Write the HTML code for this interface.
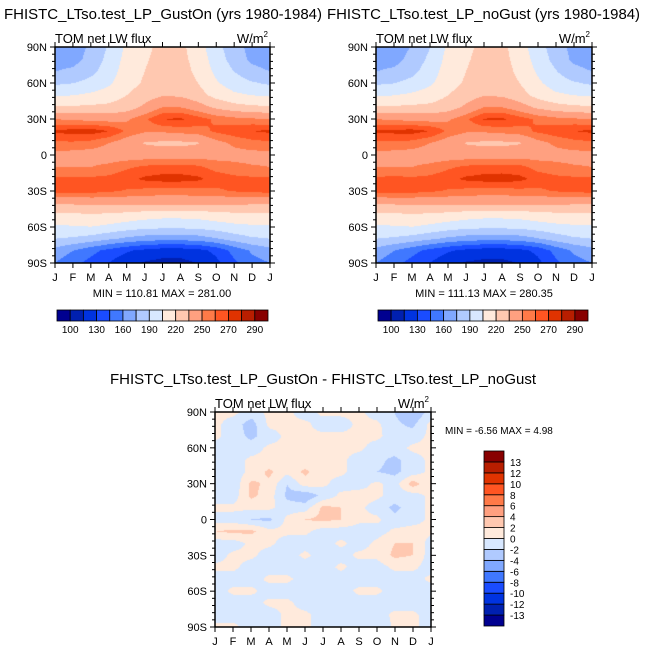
<!DOCTYPE html>
<html><head><meta charset="utf-8"><style>
body{margin:0;background:#fff;width:645px;height:654px;overflow:hidden;position:relative;font-family:"Liberation Sans",sans-serif}
canvas{position:absolute}
svg{position:absolute;left:0;top:0}
</style></head><body>
<canvas id="c1" width="215" height="216" style="left:55px;top:47px"></canvas>
<canvas id="c2" width="216" height="216" style="left:376px;top:47px"></canvas>
<canvas id="c3" width="216" height="215" style="left:215px;top:412px"></canvas>
<svg id="ov" width="645" height="654"></svg>
<script>
const months=["J","F","M","A","M","J","J","A","S","O","N","D","J"];
const lats=[90,80,70,60,50,40,30,20,10,0,-10,-20,-30,-40,-50,-60,-70,-80,-90];
const latTickLabels=["90N","60N","30N","0","30S","60S","90S"];
const levelsTop=[100,115,130,145,160,175,190,205,220,235,250,260,270,280,290];
const levelsTopLabels=["100","130","160","190","220","250","270","290"];
const colorsTop=["#000090","#0020b0","#0033e0","#1a4cff","#4078ff","#80a8ff","#b0caff","#d8e8ff","#ffeadc","#ffc8b0","#ffa080","#ff7a48","#ff5522","#e03300","#b81e00","#880000"];
const levelsDiff=[-13,-12,-10,-8,-6,-4,-2,0,2,4,6,8,10,12,13];
const levelsDiffLabels=["-13","-12","-10","-8","-6","-4","-2","0","2","4","6","8","10","12","13"];
const gustOn=[
[165,168,178,192,208,216,225,224,212,195,182,170,165],
[168,170,180,195,210,218,226,225,214,198,184,172,168],
[175,178,186,198,212,220,228,227,216,202,190,180,175],
[188,190,195,203,214,222,230,229,220,207,198,192,188],
[203,205,208,212,220,228,234,233,226,215,208,205,203],
[222,222,223,224,228,238,250,250,242,232,226,223,222],
[250,248,246,245,248,258,270,272,265,258,254,252,250],
[272,274,275,270,258,252,252,254,256,262,266,270,272],
[258,258,256,250,242,234,232,232,234,246,252,256,258],
[246,245,244,243,243,243,243,243,244,245,246,246,246],
[250,250,250,253,258,262,264,264,262,256,253,251,250],
[262,262,262,263,267,272,274,274,272,266,263,262,262],
[264,264,264,262,259,257,256,256,257,258,261,263,264],
[238,238,239,240,240,240,240,240,240,240,239,238,238],
[216,217,219,217,215,212,210,210,211,214,216,216,216],
[203,204,205,202,198,195,194,194,195,198,201,203,203],
[190,188,184,178,172,168,166,166,168,174,182,188,190],
[170,160,150,140,132,126,122,122,125,134,150,162,170],
[160,150,140,130,120,114,111,111,116,126,142,155,160]];
const noGust=[
[165,168,176,190,208,216,225,224,212,196,183,170,165],
[168,170,180,194,210,218,226,225,214,199,185,172,168],
[175,178,186,198,212,220,228,227,216,203,191,180,175],
[188,190,195,203,214,222,230,229,220,208,198,192,188],
[203,205,208,212,220,228,234,233,226,215,208,205,203],
[222,222,223,224,228,238,250,250,242,232,226,223,222],
[250,248,246,245,248,258,271,272,265,258,254,252,250],
[272,273,274,270,258,252,252,254,256,262,266,270,272],
[258,258,256,250,242,234,232,232,234,246,252,256,258],
[246,245,244,243,243,243,243,243,244,245,246,246,246],
[250,250,250,253,258,262,264,264,263,256,253,251,250],
[262,263,262,263,267,272,274,275,273,266,263,262,262],
[264,266,264,262,259,257,256,256,257,258,261,263,264],
[238,238,239,240,240,240,240,240,240,240,239,238,238],
[216,217,219,217,215,212,210,210,211,214,216,216,216],
[203,204,205,202,198,195,194,194,195,198,201,203,203],
[190,188,184,178,172,168,166,166,168,174,182,188,190],
[170,160,150,140,132,126,122,122,125,134,150,162,170],
[160,150,140,130,120,114,112,112,116,126,142,155,160]];
const diff=[
[0.5,0.5,-1,0.5,0.5,-1,0.5,0.5,0.5,-1,-2,-4,-1],
[0.5,-1,-3,0.5,0.5,0.5,-1,-1,0.5,0.5,-1.5,-2.5,0.5],
[0.5,-1,-2.5,-1,0.5,0.5,0.5,0.5,0.5,0.5,-1,-1,0.5],
[-1,-1,-1,0.5,0.5,0.5,0.5,0.5,0.5,-1,-1,0.5,0.5],
[-1,-1,0.5,0.5,0.5,0.5,0.5,0.5,-1,-1.5,-2.5,-1,0.5],
[-1,-1,0.5,2.5,0.5,2.5,0.5,0.5,-1,-2,-2.5,-1,0.5],
[-1,-1.5,2.5,1.5,-2,1,0.5,-1,-1,0.5,-1,3,0.5],
[-1,-1,2.5,1,-2.5,-3.5,-1.5,0.5,1,0.5,-1,-1,0.5],
[0.5,0.5,0.5,0.5,-1,-1,2.5,2,0.5,-1,-2.5,-1,0.5],
[-1,-1,-2,-2.5,0.5,2,2.5,2,0.5,0.5,-1.5,-1,0.5],
[2,2.5,2.5,0.5,0.5,0.5,-1,-1,-1,-1,0.5,1,0.5],
[-1,-1,0.5,0.5,-1,-1,-1,0.5,-1,0.5,2,2,-1],
[-1,0.5,0.5,-1,-1,0.5,-1,-1,0.5,0.5,2.5,2,-1],
[0.5,0.5,-1,-1,-1,-1,-1,0.5,-1,-1,0.5,0.5,-1],
[-1,-1,-1,0.5,0.5,-1,-1,-1,-1,-1,-1,-1,0.5],
[-1,0.5,0.5,-1,-1,-1,-1,-1,0.5,0.5,-1,-1,-1],
[-1,-1,-1,0.5,0.5,-1,-1,-1,-1,-1,-1,-1,-1],
[-1,-1,-1,-1,0.5,0.5,-1,-1,-1,-1,0.5,0.5,-1],
[0.5,0.5,-1,-1,0.5,0.5,-1,-1,-1,-2,0.5,0.5,-1]];

function hex(c){return [parseInt(c.substr(1,2),16),parseInt(c.substr(3,2),16),parseInt(c.substr(5,2),16)];}
function fill(id,grid,levels,colors){
  const cv=document.getElementById(id),ctx=cv.getContext('2d'),W=cv.width,H=cv.height;
  const img=ctx.createImageData(W,H),rgb=colors.map(hex);
  const nr=grid.length,nc=grid[0].length;
  for(let y=0;y<H;y++){const fy=y/(H-1)*(nr-1),r0=Math.min(Math.floor(fy),nr-2),ty=fy-r0;
    for(let x=0;x<W;x++){const fx=x/(W-1)*(nc-1),c0=Math.min(Math.floor(fx),nc-2),tx=fx-c0;
      const v=(grid[r0][c0]*(1-tx)+grid[r0][c0+1]*tx)*(1-ty)+(grid[r0+1][c0]*(1-tx)+grid[r0+1][c0+1]*tx)*ty;
      let k=0;while(k<levels.length&&v>=levels[k])k++;
      const p=(y*W+x)*4,c=rgb[k];img.data[p]=c[0];img.data[p+1]=c[1];img.data[p+2]=c[2];img.data[p+3]=255;}}
  ctx.putImageData(img,0,0);
}
fill('c1',gustOn,levelsTop,colorsTop);
fill('c2',noGust,levelsTop,colorsTop);
fill('c3',diff,levelsDiff,colorsTop);

const NS="http://www.w3.org/2000/svg",ov=document.getElementById('ov');
function el(t,a,txt){const e=document.createElementNS(NS,t);for(const k in a)e.setAttribute(k,a[k]);if(txt!==undefined)e.textContent=txt;ov.appendChild(e);return e;}
function axes(x0,y0,w,h,pfx){
  let e=el('rect',{x:x0,y:y0,width:w,height:h,fill:'none',stroke:'#000','stroke-width':1.5});
  
  
  const sx=i=>x0+i*w/12, sy=l=>y0+(90-l)/180*h;
  months.forEach((m,i)=>{const x=sx(i);
    el('line',{x1:x,x2:x,y1:y0+h,y2:y0+h+5,stroke:'#000','stroke-width':1});
    el('line',{x1:x,x2:x,y1:y0,y2:y0-5,stroke:'#000','stroke-width':1});
    e=el('text',{x:x,y:y0+h+18,'font-size':11,'text-anchor':'middle'},m);
    
    });
  for(let l=90;l>=-90;l-=6){const y=sy(l),maj=(l%30===0);
    el('line',{x1:x0,x2:x0-(maj?5:3),y1:y,y2:y,stroke:'#000','stroke-width':1});
    el('line',{x1:x0+w,x2:x0+w+(maj?5:3),y1:y,y2:y,stroke:'#000','stroke-width':1});}
  latTickLabels.forEach((t,i)=>{e=el('text',{x:x0-8,y:sy(90-30*i)+4,'font-size':11,'text-anchor':'end'},t);
    
    });
  e=el('text',{x:x0,y:y0-4,'font-size':13},'TOM net LW flux');
  
  
  e=el('text',{x:x0+w-2,y:y0-4,'font-size':13,'text-anchor':'end'});
  
  
  e.innerHTML='W/m<tspan font-size="8" dy="-6">2</tspan>';
}
axes(55,47,215,216,'gust-on');
axes(376,47,216,216,'no-gust');
axes(215,412,216,215,'diff');
let t;
t=el('text',{x:4,y:19,'font-size':15,textLength:318,lengthAdjust:'spacingAndGlyphs'},'FHISTC_LTso.test_LP_GustOn (yrs 1980-1984)');

t=el('text',{x:327,y:19,'font-size':15,textLength:313,lengthAdjust:'spacingAndGlyphs'},'FHISTC_LTso.test_LP_noGust (yrs 1980-1984)');

t=el('text',{x:110,y:384,'font-size':15,textLength:426,lengthAdjust:'spacingAndGlyphs'},'FHISTC_LTso.test_LP_GustOn - FHISTC_LTso.test_LP_noGust');

t=el('text',{x:162,y:297,'font-size':11,'text-anchor':'middle'},'MIN = 110.81 MAX = 281.00');

t=el('text',{x:484,y:297,'font-size':11,'text-anchor':'middle'},'MIN = 111.13 MAX = 280.35');

t=el('text',{x:445,y:434,'font-size':10},'MIN =  -6.56 MAX =  4.98');


function hbar(x0,y0,w,h,pfx){const bw=w/colorsTop.length;
  colorsTop.forEach((c,i)=>{const r=el('rect',{x:x0+i*bw,y:y0,width:bw,height:h,fill:c,stroke:'#000','stroke-width':0.8});
    });
  levelsTopLabels.forEach((l,i)=>{const e=el('text',{x:x0+(2*i+1)*bw,y:y0+h+12,'font-size':10,'text-anchor':'middle'},l);
    });
}
hbar(57,310,211,11,'gust-on');
hbar(378,310,210,11,'no-gust');
(function(){const x0=484,y0=451,w=20,h=175,n=colorsTop.length,bh=h/n;
  colorsTop.forEach((c,i)=>{const r=el('rect',{x:x0,y:y0+(n-1-i)*bh,width:w,height:bh,fill:c,stroke:'#000','stroke-width':0.8});
    });
  levelsDiffLabels.forEach((l,i)=>{const e=el('text',{x:x0+w+6,y:y0+(n-1-i)*bh+4,'font-size':10},l);
    });
})();
</script>
</body></html>
